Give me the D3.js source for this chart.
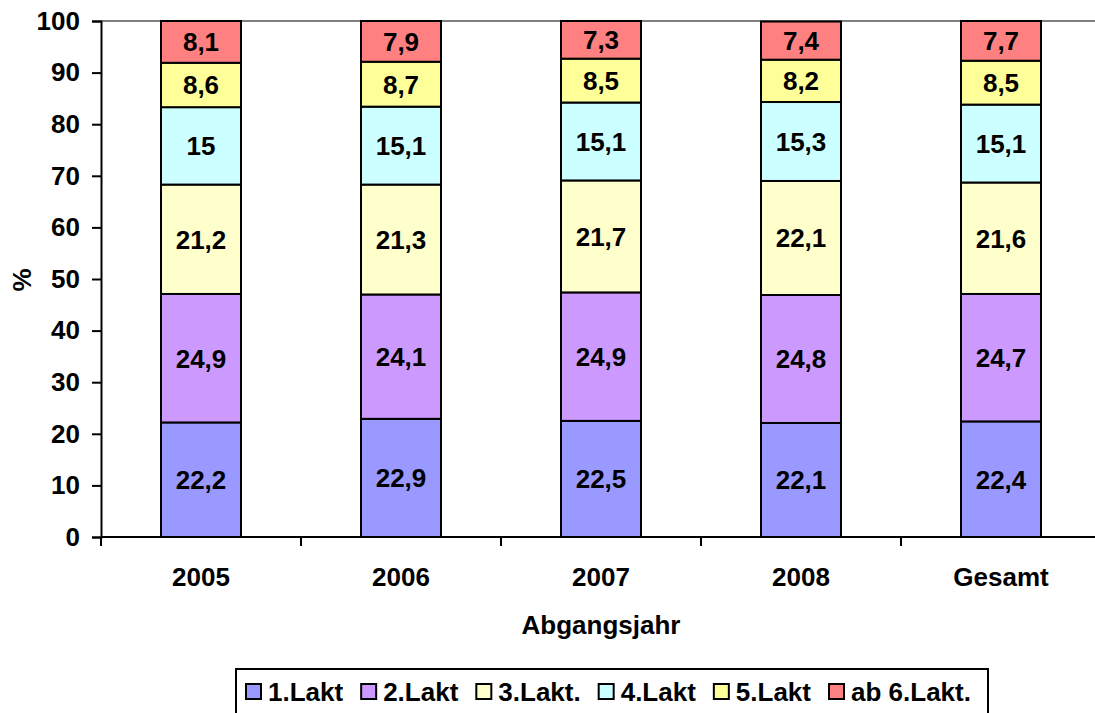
<!DOCTYPE html>
<html>
<head>
<meta charset="utf-8">
<script src="https://cdn.jsdelivr.net/npm/d3@7"></script>
<style>
    body { margin: 0; background: #fff; }
    text { font-family: "Liberation Sans", Arial, sans-serif; font-weight: bold; fill: #000; }
</style>
</head>
<body>
<script>
    const WIDTH = 1095;
    const HEIGHT = 713;
    const MARGINS = { top: 21, right: -6, bottom: 176, left: 101 };
    const FONT = "26px";

    // Data
    const years = ["2005", "2006", "2007", "2008", "Gesamt"];
    const series = ["1.Lakt", "2.Lakt", "3.Lakt.", "4.Lakt", "5.Lakt", "ab 6.Lakt."];
    const lakt1 = [22.2, 22.9, 22.5, 22.1, 22.4];
    const lakt2 = [24.9, 24.1, 24.9, 24.8, 24.7];
    const lakt3 = [21.2, 21.3, 21.7, 22.1, 21.6];
    const lakt4 = [15, 15.1, 15.1, 15.3, 15.1];
    const lakt5 = [8.6, 8.7, 8.5, 8.2, 8.5];
    const lakt6 = [8.1, 7.9, 7.3, 7.4, 7.7];
    const yTicks = [0, 10, 20, 30, 40, 50, 60, 70, 80, 90, 100];

    const COLORS = ["#9999FF", "#CC99FF", "#FFFFCC", "#CCFFFF", "#FFFF99", "#FF8080"];
    const values = [lakt1, lakt2, lakt3, lakt4, lakt5, lakt6];

    const table = years.map((y, i) => {
        const row = { year: y };
        series.forEach((s, k) => row[s] = values[k][i]);
        return row;
    });
    const stacked = d3.stack().keys(series)(table);

    const xScale = d3.scaleBand()
        .domain(years)
        .range([MARGINS.left, WIDTH - MARGINS.right])
        .paddingInner(0.6)
        .paddingOuter(0.3);
    const xOuter = d3.scaleBand()
        .domain(years)
        .range([MARGINS.left, WIDTH - MARGINS.right]);
    const yScale = d3.scaleLinear()
        .domain([0, 100])
        .range([HEIGHT - MARGINS.bottom, MARGINS.top]);

    const svg = d3.select("body").append("svg")
        .attr("width", WIDTH)
        .attr("height", HEIGHT)
        .attr("viewBox", [0, 0, WIDTH, HEIGHT]);

    // Top grid line at 100
    svg.append("line")
        .attr("x1", MARGINS.left)
        .attr("x2", WIDTH)
        .attr("y1", yScale(100))
        .attr("y2", yScale(100))
        .style("stroke", "#808080")
        .style("stroke-width", 2);

    // Bars
    const layers = svg.append("g")
        .selectAll("g")
        .data(stacked)
        .join("g")
        .style("fill", (d, i) => COLORS[i]);

    layers.selectAll("rect")
        .data(d => d)
        .join("rect")
        .attr("x", d => xScale(d.data.year))
        .attr("width", xScale.bandwidth())
        .attr("y", d => yScale(d[1]))
        .attr("height", d => yScale(d[0]) - yScale(d[1]))
        .style("stroke", "#000")
        .style("stroke-width", 2);

    // Value labels
    layers.selectAll("text")
        .data(d => d.map(p => ({ p: p, key: d.key })))
        .join("text")
        .attr("x", d => xScale(d.p.data.year) + xScale.bandwidth() / 2)
        .attr("y", d => yScale((d.p[0] + d.p[1]) / 2))
        .attr("dy", "0.36em")
        .attr("text-anchor", "middle")
        .style("font-size", FONT)
        .style("fill", "#000")
        .text(d => String(d.p.data[d.key]).replace(".", ","));

    // Y axis
    const yAxis = svg.append("g")
        .attr("transform", `translate(${MARGINS.left},0)`)
        .call(d3.axisLeft(yScale).tickValues(yTicks).tickSize(9).tickPadding(12));
    yAxis.select(".domain").style("stroke", "#000").style("stroke-width", 2);
    yAxis.selectAll(".tick line").style("stroke", "#000").style("stroke-width", 2);
    yAxis.selectAll(".tick text")
        .style("font-size", FONT)
        .style("font-family", "Liberation Sans, Arial, sans-serif")
        .style("font-weight", "bold");

    // X axis
    const xAxis = svg.append("g")
        .attr("transform", `translate(0,${HEIGHT - MARGINS.bottom})`)
        .call(d3.axisBottom(xOuter).tickSize(0).tickPadding(31));
    xAxis.select(".domain").remove();
    xAxis.append("line")
        .attr("x1", MARGINS.left)
        .attr("x2", WIDTH)
        .style("stroke", "#000")
        .style("stroke-width", 2);
    xAxis.selectAll(".tickmark")
        .data(years)
        .join("line")
        .attr("class", "tickmark")
        .attr("x1", d => xOuter(d))
        .attr("x2", d => xOuter(d))
        .attr("y1", 0)
        .attr("y2", 9)
        .style("stroke", "#000")
        .style("stroke-width", 2);
    xAxis.selectAll(".tick text")
        .style("font-size", FONT)
        .style("font-family", "Liberation Sans, Arial, sans-serif")
        .style("font-weight", "bold");

    // Axis titles
    svg.append("text")
        .text("Abgangsjahr")
        .attr("x", 601)
        .attr("y", 634)
        .attr("text-anchor", "middle")
        .style("font-size", FONT);
    svg.append("text")
        .text("%")
        .attr("transform", "translate(31,280) rotate(-90)")
        .attr("text-anchor", "middle")
        .style("font-size", FONT);

    // Legend
    const legend = svg.append("g");
    legend.append("rect")
        .attr("x", 236)
        .attr("y", 669)
        .attr("width", 752)
        .attr("height", 60)
        .style("fill", "#fff")
        .style("stroke", "#000")
        .style("stroke-width", 2);
    let lx = 246;
    series.forEach((s, i) => {
        legend.append("rect")
            .attr("x", lx)
            .attr("y", 684)
            .attr("width", 15)
            .attr("height", 15)
            .style("fill", COLORS[i])
            .style("stroke", "#000")
            .style("stroke-width", 2);
        const t = legend.append("text")
            .text(s)
            .attr("x", lx + 22)
            .attr("y", 701)
            .style("font-size", FONT);
        lx += 22 + t.node().getComputedTextLength() + 18;
    });
</script>
</body>
</html>
